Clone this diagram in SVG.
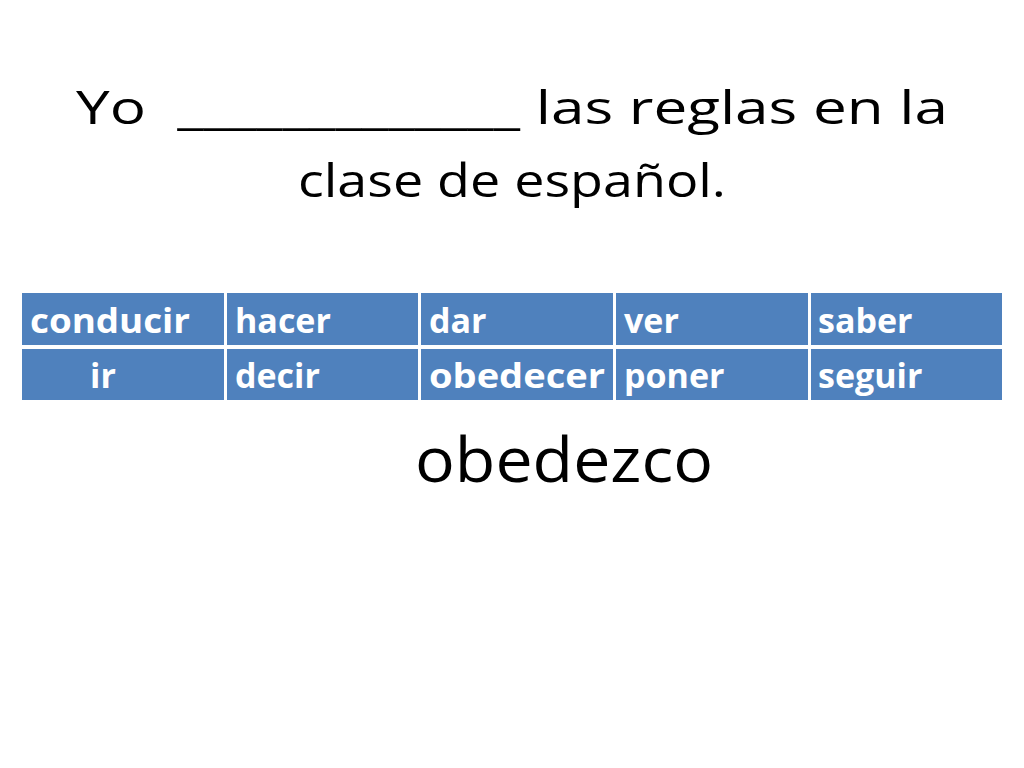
<svg xmlns="http://www.w3.org/2000/svg" width="1024" height="768" viewBox="0 0 1024 768">
<style>
.t{font-family:"Open Sans","Liberation Sans",sans-serif;fill:#000}
.c{fill:#4f81bd}
.w{font-family:"Open Sans","Liberation Sans",sans-serif;font-size:34px;font-weight:bold;fill:#fff}
</style>
<rect width="1024" height="768" fill="#fff"/>
<text class="t" x="512" y="124" font-size="46" text-anchor="middle" textLength="872" lengthAdjust="spacingAndGlyphs" xml:space="preserve">Yo  _____________ las reglas en la</text>
<text class="t" x="512" y="197" font-size="46" text-anchor="middle" textLength="428" lengthAdjust="spacingAndGlyphs">clase de español.</text>
<g id="table">
<rect class="c" x="22" y="293" width="202" height="52"/>
<rect class="c" x="227" y="293" width="191" height="52"/>
<rect class="c" x="421" y="293" width="192" height="52"/>
<rect class="c" x="616" y="293" width="192" height="52"/>
<rect class="c" x="811" y="293" width="191" height="52"/>
<rect class="c" x="22" y="349" width="202" height="51"/>
<rect class="c" x="227" y="349" width="191" height="51"/>
<rect class="c" x="421" y="349" width="192" height="51"/>
<rect class="c" x="616" y="349" width="192" height="51"/>
<rect class="c" x="811" y="349" width="191" height="51"/>
<text class="w" x="30" y="333" textLength="160" lengthAdjust="spacingAndGlyphs">conducir</text>
<text class="w" x="235" y="333">hacer</text>
<text class="w" x="429" y="333">dar</text>
<text class="w" x="624" y="333">ver</text>
<text class="w" x="818" y="333">saber</text>
<text class="w" x="90" y="388">ir</text>
<text class="w" x="235" y="388">decir</text>
<text class="w" x="429" y="388" textLength="176" lengthAdjust="spacingAndGlyphs">obedecer</text>
<text class="w" x="624" y="388">poner</text>
<text class="w" x="818" y="388">seguir</text>
</g>
<text class="t" x="415" y="482" font-size="62" textLength="298" lengthAdjust="spacingAndGlyphs">obedezco</text>
</svg>
